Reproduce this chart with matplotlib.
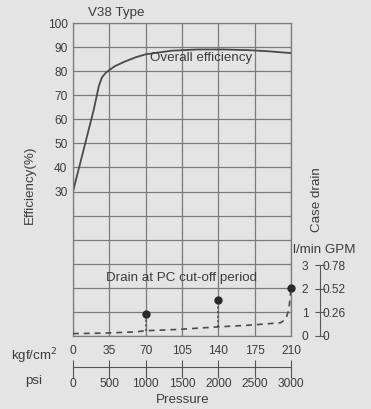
import matplotlib.pyplot as plt

plt.rcParams["font.family"] = ["Liberation Sans", "DejaVu Sans"]

# Overall efficiency (kgf/cm2 vs %)
eff_p = [0, 10, 20, 25, 28, 32, 40, 50, 60, 70, 95, 120, 145, 170, 190, 210]
eff_v = [30, 47, 64, 74, 77.5, 79.5, 82, 84, 85.7, 87, 88.5, 89, 89, 88.7, 88.2, 87.5]

# Case drain (l/min)
drain_p = [0, 30, 60, 70, 100, 140, 170, 200, 205, 208, 210]
drain_v = [0.1, 0.12, 0.17, 0.22, 0.27, 0.38, 0.45, 0.55, 0.7, 1.1, 2.0]

# Drain at PC cut-off period
dot_p = [70, 140, 210]
dot_v = [0.9, 1.5, 2.0]
dot_base = [0.22, 0.38, 2.0]

kgf_ticks = [0, 35, 70, 105, 140, 175, 210]
psi_ticks = [0, 500, 1000, 1500, 2000, 2500, 3000]
lmin_ticks = [0, 1, 2, 3]
gpm_labels = ["0", "0.26", "0.52", "0.78"]

bg = "#e4e4e4"
ink = "#3c3c3c"
grid = "#7a7a7a"
fs = 8.6   # tick numbers
ft = 9.6   # text

fig = plt.figure(figsize=(3.71, 4.09), dpi=100)
fig.patch.set_facecolor(bg)

L, B, W, H = 73/371, 1-336/409, 218/371, 313/409
ax = fig.add_axes([L, B, W, H])
ax.set_facecolor(bg)
ax.set_xlim(0, 210)
ax.set_ylim(-30, 100)
ax.set_xticks(kgf_ticks)
ax.set_yticks(range(-30, 101, 10))
ax.set_yticklabels(["" if v < 30 else str(v) for v in range(-30, 101, 10)])
ax.tick_params(length=0, labelsize=fs, labelcolor=ink, labelbottom=False, pad=4)
ax.grid(True, color=grid, linewidth=0.9)
for s in ax.spines.values():
    s.set_color(grid)
    s.set_linewidth(0.9)
ax.plot(eff_p, eff_v, color="#4a4a4a", linewidth=1.3)
ax.text(74, 84.3, "Overall efficiency", fontsize=ft, color=ink)
ax.text(32, -7.3, "Drain at PC cut-off period", fontsize=ft, color=ink)

ax2 = ax.twinx()
ax2.set_ylim(0, 13)
ax2.axis("off")
ax2.plot(drain_p, drain_v, color="#4a4a4a", linewidth=1.2, linestyle=(0, (3.5, 3)))
for p, v, b in zip(dot_p, dot_v, dot_base):
    ax2.plot([p, p], [b, v], color="#4a4a4a", linewidth=1.1, linestyle=(0, (1.5, 1.5)))
ax2.plot(dot_p, dot_v, "o", color="#2a2a2a", markersize=5, clip_on=False)

# pressure scale: kgf/cm2 above the line, psi below
axp = fig.add_axes([L, 1-367/409, W, 0])
axp.set_xlim(0, 210)
axp.set_facecolor("none")
for k in ["left", "right", "top"]:
    axp.spines[k].set_visible(False)
axp.spines["bottom"].set_color("#555555")
axp.set_yticks([])
axp.set_xticks(kgf_ticks)
axp.tick_params(axis="x", direction="out", length=5, color="#555555", top=True, bottom=False,
                labeltop=True, labelbottom=False, labelsize=fs, labelcolor=ink, pad=2)
sec = axp.secondary_xaxis("bottom", functions=(lambda x: x*3000/210, lambda x: x*210/3000))
sec.set_xticks(psi_ticks)
sec.spines["bottom"].set_visible(False)
sec.tick_params(direction="out", length=8, color="#555555", labelsize=fs, labelcolor=ink, pad=0)

# case drain scale
axd = fig.add_axes([320/371, B, 0, 71/409])
axd.set_ylim(0, 3)
axd.set_facecolor("none")
for k in ["bottom", "right", "top"]:
    axd.spines[k].set_visible(False)
axd.spines["left"].set_color("#555555")
axd.set_xticks([])
axd.set_yticks(lmin_ticks)
axd.tick_params(axis="y", direction="inout", length=7, color="#555555",
                labelsize=fs, labelcolor=ink, pad=5)
axd2 = axd.secondary_yaxis("right")
axd2.set_yticks(lmin_ticks)
axd2.set_yticklabels(gpm_labels)
axd2.spines["right"].set_visible(False)
axd2.tick_params(length=0, labelsize=fs, labelcolor=ink, pad=2)

fig.text(116/371, 1-13/409, "V38 Type", fontsize=ft, color=ink, ha="center", va="center")
fig.text(30/371, 1-185/409, "Efficiency(%)", fontsize=ft, color=ink, ha="center", va="center", rotation=90)
fig.text(317/371, 1-200/409, "Case drain", fontsize=ft, color=ink, ha="center", va="center", rotation=90)
fig.text(324/371, 1-250/409, "l/min GPM", fontsize=ft, color=ink, ha="center", va="center")
fig.text(34/371, 1-356/409, "kgf/cm$^2$", fontsize=ft, color=ink, ha="center", va="center")
fig.text(34/371, 1-381/409, "psi", fontsize=ft, color=ink, ha="center", va="center")
fig.text(183/371, 1-400/409, "Pressure", fontsize=ft, color=ink, ha="center", va="center")

fig.savefig("out.png", dpi=100, facecolor=bg)
